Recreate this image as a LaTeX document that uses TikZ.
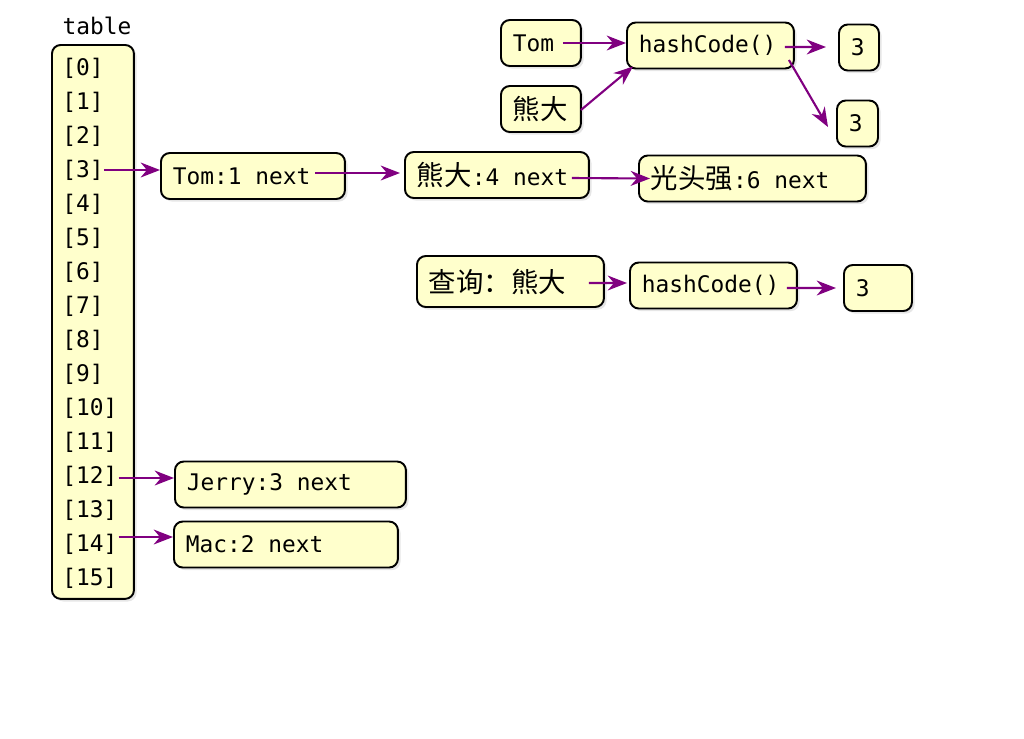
\documentclass[tikz,border=0pt]{standalone}
\usepackage{fontspec}
\setmonofont{DejaVu Sans Mono}
\newfontfamily\cjkfont[Scale=1.2]{Noto Sans CJK SC}
\usetikzlibrary{arrows.meta,shadows}

\definecolor{cellfill}{HTML}{FFFFCC}
\definecolor{linkcol}{HTML}{800080}

% one monospace blank
\newcommand\tsp{\hspace{0.602em}}

\tikzset{
    codefont/.style={font=\fontsize{13}{15}\selectfont\ttfamily},
    cell/.style={draw, line width=1.1pt, rounded corners=5pt, fill=cellfill,
        anchor=west, align=left, text width=#1, inner xsep=0.24cm, inner ysep=0pt,
        minimum height=0.92cm, codefont,
        drop shadow={opacity=0.2, shadow xshift=1.5pt, shadow yshift=-1.5pt}},
    column/.style={draw, line width=1.1pt, rounded corners=5pt, fill=cellfill,
        anchor=north west, minimum width=1.64cm, minimum height=11.08cm,
        drop shadow={opacity=0.2, shadow xshift=1.5pt, shadow yshift=-1.5pt}},
    entry/.style={anchor=west, inner sep=0pt, codefont},
    link/.style={draw=linkcol, line width=1.2pt, -{Stealth[length=11pt,width=8.5pt]}}
}

\begin{document}
\begin{tikzpicture}[x=0.02cm, y=-0.02cm]
    \useasboundingbox (0,0) rectangle (1024,738);

    % --- the bucket array ---
    \node[codefont] (tlabel) at (97,26) {table};
    \node[column] (tablebox) at (51,44) {};
    \foreach \i in {0,...,15} \node[entry] (t\i) at (62,{68+34*\i}) {[\i]};

    % --- chain at bucket 3 ---
    \node[cell=3.2cm]  (tom1) at (160,176) {Tom:1\tsp next};
    \node[cell=3.2cm]  (xd4)  at (404,175) {{\cjkfont 熊大}:4\tsp next};
    \node[cell=4.06cm] (gtq6) at (638,178.5) {{\cjkfont 光头强}:6\tsp next};

    % --- other buckets ---
    \node[cell=4.14cm] (jerry3) at (174,484.5) {Jerry:3\tsp next};
    \node[cell=4.0cm]  (mac2)   at (173,544.5) {Mac:2\tsp next};

    % --- two keys, same hash ---
    \node[cell=1.12cm] (tomkey) at (500,43) {Tom};
    \node[cell=1.12cm] (xdkey)  at (500,109) {\cjkfont 熊大};
    \node[cell=2.86cm] (hash1)  at (626,45.5) {hashCode()};
    \node[cell=0.32cm] (r1)     at (838,47.5) {3};
    \node[cell=0.34cm] (r2)     at (836,123.5) {3};

    % --- lookup ---
    \node[cell=3.26cm, minimum height=1.02cm] (query) at (416,281.5) {\cjkfont 查询：熊大};
    \node[cell=2.86cm] (hash2) at (629,285.5) {hashCode()};
    \node[cell=0.88cm] (r3)    at (843,288) {3};

    % Links
    \draw[link] (t3.east) -- (t3.east -| tom1.west);
    \draw[link] ([shift={(-31,-3)}]tom1.east) -- ([shift={(-4,-2)}]xd4.west);
    \draw[link] ([shift={(-18,3)}]xd4.east) -- ([shift={(12,0)}]gtq6.west);
    \draw[link] ([shift={(1,2)}]t12.east) -- ([shift={(0,-6.5)}]jerry3.west);
    \draw[link] ([shift={(1,-7)}]t14.east) -- ([shift={(0,-7.5)}]mac2.west);

    \draw[link] ([shift={(-19,0)}]tomkey.east) -- ([shift={(0,-2.5)}]hash1.west);
    \draw[link] ([shift={(-1,1)}]xdkey.east) -- ([shift={(7,-3)}]hash1.south west);
    \draw[link] ([shift={(-10,1.5)}]hash1.east) -- ([shift={(-12,-0.5)}]r1.west);
    \draw[link] ([shift={(-6,14.5)}]hash1.east) -- ([shift={(-8,3.5)}]r2.west);

    \draw[link] ([shift={(-16,1.5)}]query.east) -- ([shift={(-2,-2.5)}]hash2.west);
    \draw[link] ([shift={(-11,2.5)}]hash2.east) -- ([shift={(-7,0)}]r3.west);
\end{tikzpicture}
\end{document}
